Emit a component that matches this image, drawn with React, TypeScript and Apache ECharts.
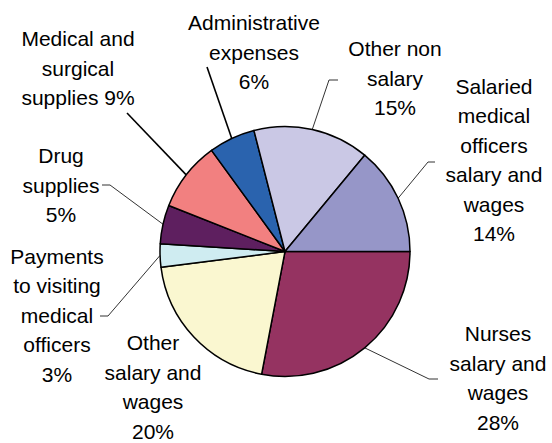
import React, { useEffect, useRef } from "react";
import * as echarts from "echarts";

const categories = [
  "Nurses\nsalary and\nwages",
  "Other\nsalary and\nwages",
  "Payments\nto visiting\nmedical\nofficers",
  "Drug\nsupplies",
  "Medical and\nsurgical\nsupplies",
  "Administrative\nexpenses",
  "Other non\nsalary",
  "Salaried\nmedical\nofficers\nsalary and\nwages",
];
const values = [28, 20, 3, 5, 9, 6, 15, 14];
const colors = ["#953361", "#FAF7D0", "#CFECF1", "#5E1F5F", "#F28080", "#2A63AE", "#CAC8E5", "#9696C8"];
// percent shown on the same line as the last name line
const inlinePercent = [false, false, false, false, true, false, false, false];

// label layout (positions of label blocks and their guide lines)
const labelPos: number[][] = [
  [498, 378],
  [153, 387],
  [57, 315],
  [61, 185],
  [78, 68],
  [254, 52],
  [395, 78],
  [494, 160],
];
const guidePts: (number[][] | null)[] = [
  [[429, 379], [438, 379]],
  null,
  [[108, 316], [100, 316]],
  [[110, 185], [102, 185]],
  [[127, 113]],
  [[207, 67]],
  [[329, 80], [338, 80]],
  [[428, 162], [435, 162]],
];
const guideStyle = [
  { color: "#333", width: 1 },
  { color: "#333", width: 1 },
  { color: "#333", width: 1 },
  { color: "#333", width: 1 },
  { color: "#000", width: 1.6 },
  { color: "#000", width: 1.6 },
  { color: "#333", width: 1 },
  { color: "#333", width: 1 },
];

export default function App() {
  const ref = useRef<HTMLDivElement>(null);
  useEffect(() => {
    if (!ref.current) return;
    const chart = echarts.init(ref.current, null, { renderer: "svg" });
    const data = categories.map((name, i) => ({
      name,
      value: values[i],
      itemStyle: { color: colors[i] },
      labelLine: {
        show: guidePts[i] !== null,
        lineStyle: { color: guideStyle[i].color, width: guideStyle[i].width },
      },
    }));
    chart.setOption({
      animation: false,
      backgroundColor: "#fff",
      series: [
        {
          type: "pie",
          center: [285, 251.5],
          radius: 125,
          startAngle: 0,
          clockwise: true,
          avoidLabelOverlap: false,
          itemStyle: { borderColor: "#000", borderWidth: 1.5 },
          emphasis: { disabled: true },
          label: {
            show: true,
            position: "outside",
            fontFamily: "Liberation Sans, Arial, sans-serif",
            fontSize: 21,
            lineHeight: 29.5,
            color: "#000",
            align: "center",
            formatter: (p: any) =>
              p.name + (inlinePercent[p.dataIndex] ? " " : "\n") + Math.round(p.percent) + "%",
          },
          labelLine: { show: true, length: 10, length2: 10 },
          labelLayout: (params: any) => {
            const i = params.dataIndex;
            const res: any = {
              x: labelPos[i][0],
              y: labelPos[i][1],
              align: "center",
              verticalAlign: "middle",
            };
            const g = guidePts[i];
            if (g && params.labelLinePoints && params.labelLinePoints[0]) {
              res.labelLinePoints = [params.labelLinePoints[0], ...g];
            }
            return res;
          },
          data,
        },
      ],
    });
    return () => chart.dispose();
  }, []);
  return <div ref={ref} style={{ width: 552, height: 443, position: "absolute", left: 0, top: 0 }} />;
}
